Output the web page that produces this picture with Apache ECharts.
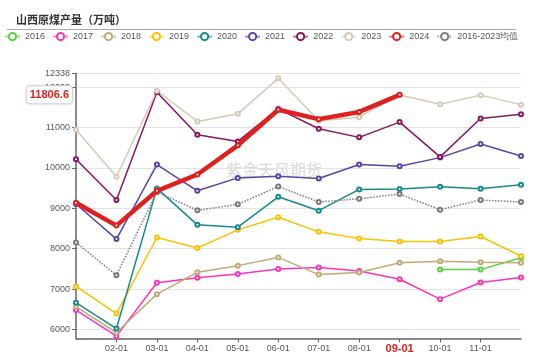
<!DOCTYPE html>
<html>
<head>
<meta charset="utf-8">
<script src="https://cdn.jsdelivr.net/npm/echarts@6/dist/echarts.min.js"></script>
<style>
html,body{margin:0;padding:0;background:#fff;}
#main{width:550px;height:357px;}
</style>
</head>
<body>
<div id="main"></div>
<script>
const categories = ['01-01','02-01','03-01','04-01','05-01','06-01','07-01','08-01','09-01','10-01','11-01','12-01'];
const yMin = 5778;
const yMax = 12338;
const pointerCategory = '09-01';

const s2016 = [null,null,null,null,null,null,null,null,null,7483,7483,7778];
const s2017 = [6482,5836,7156,7279,7377,7500,7532,7451,7244,6752,7163,7286];
const s2018 = [6566,5926,6875,7416,7581,7785,7360,7409,7655,7687,7662,7655];
const s2019 = [7065,6394,8277,8016,8466,8779,8417,8253,8179,8179,8302,7820];
const s2020 = [6664,6025,9492,8590,8532,9285,8941,9467,9475,9531,9482,9580];
const s2021 = [9106,8238,10082,9433,9752,9794,9738,10082,10040,10254,10589,10294];
const s2022 = [10213,9204,11870,10820,10655,11460,10968,10755,11133,10272,11222,11330];
const s2023 = [10943,9780,11910,11148,11337,12216,11165,11255,11806,11575,11800,11565];
const s2024 = [9138,8572,9433,9836,10557,11440,11206,11385,11806.6,null,null,null];
const sMean = [8154,7343,9400,8950,9098,9541,9155,9236,9352,8966,9204,9155];

const seriesDefs = [
  {name:'2016', data:s2016, color:'#56d23c'},
  {name:'2017', data:s2017, color:'#ff33b8'},
  {name:'2018', data:s2018, color:'#c0aa72'},
  {name:'2019', data:s2019, color:'#ffc000'},
  {name:'2020', data:s2020, color:'#138a8e'},
  {name:'2021', data:s2021, color:'#5a44a8'},
  {name:'2022', data:s2022, color:'#8b1560'},
  {name:'2023', data:s2023, color:'#d5c9b8'},
  {name:'2024', data:s2024, color:'#e0201e', width:4.5, z:5},
  {name:'2016-2023均值', data:sMean, color:'#7a7a7a', type:'dotted'}
];

const pointerIndex = categories.indexOf(pointerCategory);
const pointerValue = s2024[pointerIndex];

const chart = echarts.init(document.getElementById('main'), null, {renderer:'canvas'});
const hideEnds = function(i){ return i > 0 && i < categories.length - 1; };

chart.setOption({
  animation:false,
  backgroundColor:'#fff',
  title:{
    text:'山西原煤产量（万吨）',
    left:11, top:9,
    textStyle:{fontSize:11, fontWeight:'bold', color:'#333', fontFamily:'Noto Sans CJK SC'}
  },
  graphic:[
    {type:'line', shape:{x1:7,y1:29.5,x2:516,y2:29.5}, style:{stroke:'#aaa', lineWidth:1}, silent:true},
    {type:'text', left:226, top:162, z:0, silent:true,
     style:{text:'紫金天风期货', fontSize:16, fill:'rgba(170,170,170,0.45)', fontFamily:'Noto Sans CJK SC'}}
  ],
  legend:{
    left:4, top:32, padding:0,
    itemWidth:15, itemHeight:9, itemGap:7,
    textStyle:{fontSize:9, color:'#555', fontFamily:'Liberation Sans'},
    lineStyle:{opacity:0.6},
    data:seriesDefs.map(d=>d.name)
  },
  grid:{left:76, right:29, top:73.4, bottom:18.5, containLabel:false},
  xAxis:{
    type:'category',
    boundaryGap:false,
    data:categories,
    axisLine:{lineStyle:{color:'#666', width:1.5}},
    axisTick:{show:true, interval:hideEnds, alignWithLabel:true, length:4, lineStyle:{color:'#666'}},
    axisLabel:{interval:hideEnds, fontSize:9, color:'#555', margin:6, fontFamily:'Liberation Sans'},
    splitLine:{show:false},
    axisPointer:{
      show:true, type:'none', status:'show', value:pointerIndex, triggerTooltip:false,
      label:{show:true, color:'#e0201e', fontWeight:'bold', fontSize:11, backgroundColor:'#fff',
             padding:[1,2], margin:4, fontFamily:'Liberation Sans'}
    }
  },
  yAxis:{
    type:'value',
    min:yMin, max:yMax,
    axisLine:{show:true, lineStyle:{color:'#666', width:1.5}},
    axisTick:{show:true, length:4, lineStyle:{color:'#666'}},
    axisLabel:{fontSize:9, color:'#555', showMinLabel:false, margin:6, fontFamily:'Liberation Sans',
               formatter:function(v){ return String(Math.round(v)); }},
    splitLine:{lineStyle:{color:'#e3e3e3', width:1}},
    axisPointer:{
      show:true, type:'none', status:'show', value:pointerValue, triggerTooltip:false,
      label:{show:true, color:'#e0201e', fontWeight:'bold', fontSize:11, backgroundColor:'#fff',
             borderColor:'#ddd', borderWidth:1, padding:[3,3], margin:4, fontFamily:'Liberation Sans',
             shadowColor:'rgba(0,0,0,0.15)', shadowBlur:2,
             formatter:function(p){ return Number(p.value).toFixed(1); }}
    }
  },
  series:seriesDefs.map(d=>({
    name:d.name,
    type:'line',
    data:d.data,
    z:d.z || 2,
    symbol:'emptyCircle',
    symbolSize:4,
    showSymbol:true,
    connectNulls:false,
    color:d.color,
    itemStyle:{color:d.color, borderWidth:1},
    lineStyle:{color:d.color, width:d.width || 1.5, type:d.type || 'solid'},
    emphasis:{disabled:true}
  }))
});
</script>
</body>
</html>
